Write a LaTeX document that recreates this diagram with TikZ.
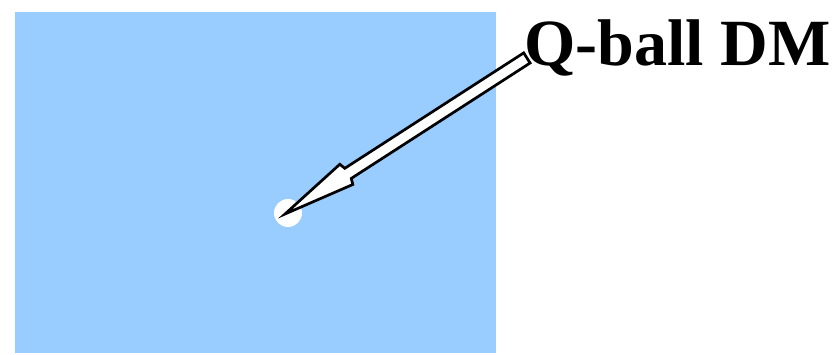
\documentclass[tikz,border=0pt]{standalone}
\usepackage{fontspec}
\setmainfont{Liberation Serif}
\begin{document}
\begin{tikzpicture}[x=1pt,y={(0pt,-1pt)},
  panel/.style={fill={rgb,255:red,153;green,204;blue,255},draw=none},
  dmball/.style={circle,fill=white,draw=none,minimum size=28pt,inner sep=0pt},
  blockarrow/.style={fill=white,draw=black,line width=2.7pt,line join=miter},
  label/.style={font=\bfseries\fontsize{66}{72}\selectfont,inner sep=0pt,anchor=base west}]
\useasboundingbox (0,0) rectangle (837,355);
\fill[panel] (15,12) rectangle (496,353);
\node[dmball] (ball) at (288,213) {};
\coordinate (tip) at (285,214);
\draw[blockarrow] (tip) -- (339.8,164.3) -- (344.8,168.3) -- (523.7,52.9)
  -- (530.1,63.0) -- (351.3,178.4) -- (352.8,184.5) -- cycle;
\node[label] (lbl) at (524,66) {Q-ball DM};
\end{tikzpicture}
\end{document}
